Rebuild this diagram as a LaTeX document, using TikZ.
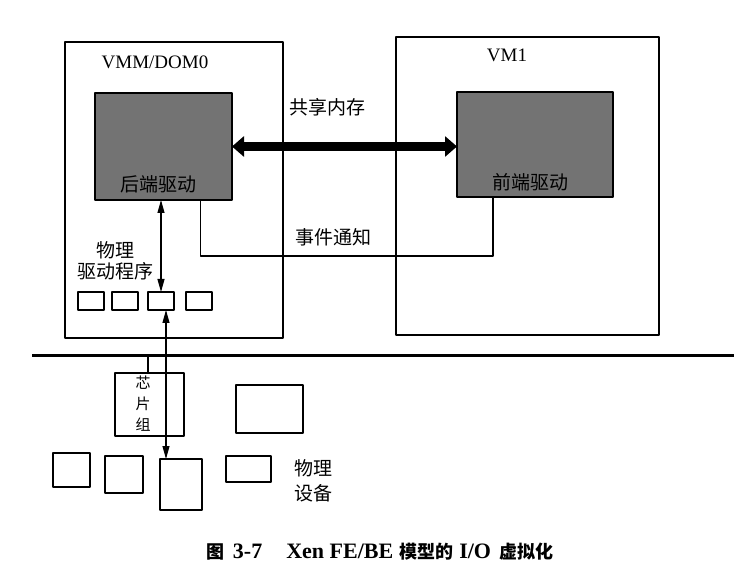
\documentclass[tikz,border=0pt]{standalone}
\usepackage{fontspec}
\setmainfont{Liberation Serif}
\newfontfamily\cjk{Noto Sans CJK SC}
\usetikzlibrary{arrows.meta}

\tikzset{
    box/.style={draw, line width=1.2pt, inner sep=0pt, outer sep=0pt, anchor=north west},
    drvbox/.style={box, fill=black!55},
    lbl/.style={inner sep=0pt, font=\cjk\fontsize{19}{21}\selectfont, align=center},
    latinlbl/.style={inner sep=0pt, font=\fontsize{19}{21}\selectfont},
    link/.style={line width=1.1pt, {Triangle[length=13pt,width=7pt]}-{Triangle[length=13pt,width=7pt]}},
}
\newcommand\capcjk[1]{{\cjk\bfseries\fontsize{18}{19}\selectfont #1}}

\begin{document}
\begin{tikzpicture}[x=1pt, y=-1pt, line join=round]
    \useasboundingbox (0,0) rectangle (742,585);

    % domains
    \node[box, minimum width=218, minimum height=296] (dom0) at (65,42) {};
    \node[box, minimum width=263, minimum height=298] (vm1) at (396,37) {};
    \node[latinlbl] (dom0lbl) at (155,62) {VMM/DOM0};
    \node[latinlbl] (vm1lbl) at (507,55) {VM1};

    % split drivers
    \node[drvbox, minimum width=137, minimum height=107] (be) at (95,93) {};
    \node[drvbox, minimum width=156, minimum height=105] (fe) at (457,92) {};
    \node[lbl] (belbl) at (158,184) {后端驱动};
    \node[lbl] (felbl) at (530,182) {前端驱动};

    \draw[line width=9pt, {Triangle[length=12pt,width=20pt]}-{Triangle[length=12pt,width=20pt]}]
        (be.east) -- (be.east -| fe.west);
    \node[lbl] (shm) at (327,107) {共享内存};

    \coordinate (evt) at (340,256);
    \draw[line width=1.1pt] ([xshift=37pt]be.south) |- (evt) -| ([xshift=-42pt]fe.south);
    \node[lbl] (evtlbl) at (333,237) {事件通知};

    % physical drivers
    \foreach \n/\x in {1/78, 2/112, 3/148, 4/186}
        \node[box, minimum width=26, minimum height=18] (drv\n) at (\x,292) {};
    \node[lbl] (drvlbl) at (115,261) {物理\\驱动程序};
    \draw[link] (drv3.north) -- (drv3.north |- be.south);

    % bus
    \coordinate (busL) at (32,356);
    \coordinate (busR) at (734,356);
    \draw[line width=3pt] (busL) -- (busR);

    % hardware
    \node[box, minimum width=69, minimum height=63] (chip) at (115,373) {};
    \node[inner sep=0pt, font=\cjk\fontsize{15}{21}\selectfont, align=center] (chiplbl) at (143,404) {芯\\片\\组};
    \coordinate (tap) at (148,356);
    \draw[line width=1.1pt] (tap) -- (tap |- chip.north);
    \node[box, minimum width=67, minimum height=48] (mem) at (236,385) {};

    \node[box, minimum width=37, minimum height=34] (dev1) at (53,453) {};
    \node[box, minimum width=38, minimum height=37] (dev2) at (105,456) {};
    \node[box, minimum width=42, minimum height=51] (dev3) at (160,459) {};
    \node[box, minimum width=45, minimum height=26] (dev4) at (226,456) {};
    \node[lbl, font=\cjk\fontsize{19}{25}\selectfont] (devlbl) at (313,481) {物理\\设备};

    \coordinate (iox) at (166,0);
    \draw[link] (drv3.south -| iox) -- (dev3.north -| iox);

    % caption
    \node[inner sep=0pt, font=\fontsize{22}{24}\selectfont\bfseries] (caption) at (380,552)
        {\capcjk{图}\hspace{8pt}3-7\hspace{24pt}Xen FE/BE\hspace{6pt}\capcjk{模型的}\hspace{6pt}I/O\hspace{8pt}\capcjk{虚拟化}};
\end{tikzpicture}
\end{document}
